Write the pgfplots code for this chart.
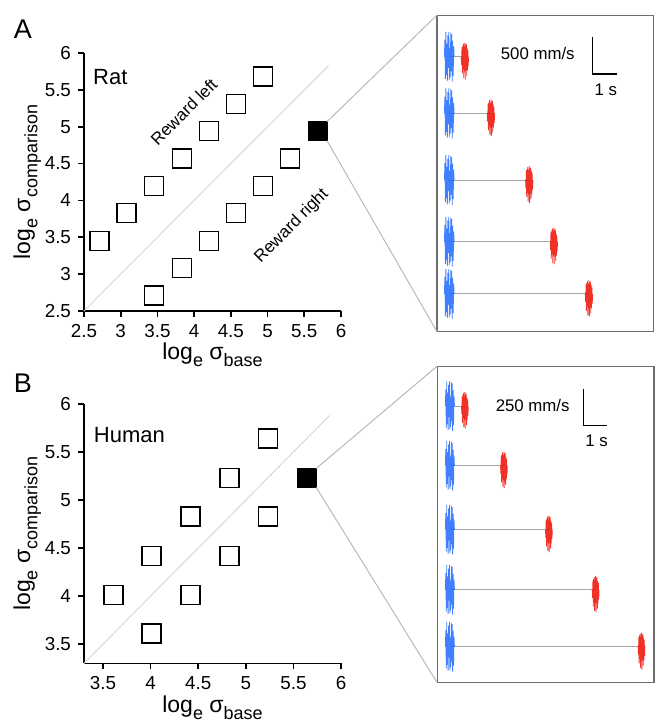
\documentclass[border=0pt]{standalone}
\usepackage{fontspec}
\setmainfont{Liberation Sans}
\usepackage{pgfplots}
\usepackage{pgfplotstable}
\pgfplotsset{compat=1.18}

\definecolor{tblue}{RGB}{30,105,255}
\definecolor{tred}{RGB}{240,25,15}
\definecolor{diag}{RGB}{215,215,215}
\definecolor{link}{RGB}{185,185,185}
\definecolor{boxc}{RGB}{110,110,110}
\definecolor{trace}{RGB}{165,165,165}

\newcommand{\lsub}[1]{\raisebox{-3.6pt}{\fontsize{9}{10}\selectfont #1}}

% log sigma pairs (base, comparison), open squares
\pgfplotstableread{
base comp
2.71 3.45
3.08 3.83
3.45 4.20
3.83 4.57
4.20 4.94
4.57 5.31
4.94 5.68
3.45 2.71
3.83 3.08
4.20 3.45
4.57 3.83
4.94 4.20
5.31 4.57
}\ratopen

\pgfplotstableread{
base comp
3.61 4.01
4.01 3.61
4.01 4.42
4.42 4.01
4.42 4.83
4.83 4.42
4.83 5.23
5.23 4.83
5.23 5.64
}\humanopen

% velocity bursts (s, mm/s)
\pgfplotstableread{
t rat human
-0.20 0 0
-0.18 230 115
-0.16 -300 -150
-0.14 340 170
-0.12 -250 -125
-0.10 180 90
-0.08 -330 -165
-0.06 290 145
-0.04 -150 -75
-0.02 340 170
0.00 -320 -160
0.02 120 60
0.04 -280 -140
0.06 330 165
0.08 -200 -100
0.10 310 155
0.12 -340 -170
0.14 220 110
0.16 -260 -130
0.18 140 70
0.20 0 0
}\blueburst

\pgfplotstableread{
t rat human
-0.150 0 0
-0.135 -110 -55
-0.120 130 65
-0.105 -230 -115
-0.090 150 75
-0.075 -170 -85
-0.060 180 90
-0.045 -290 -145
-0.030 140 70
-0.015 -200 -100
0.000 190 95
0.015 -310 -155
0.030 160 80
0.045 -180 -90
0.060 170 85
0.075 -260 -130
0.090 120 60
0.105 -190 -95
0.120 90 45
0.135 -130 -65
0.150 0 0
}\redburst

\tikzset{note/.style={font=\fontsize{8.4}{10}\selectfont}}

\pgfplotsset{
  scatterax/.style={
    scale only axis, width=128.5pt, anchor=south west,
    axis lines=left, axis line style={-, line width=0.8pt},
    tick align=outside, major tick length=3pt,
    tick style={black, line width=0.8pt},
    /pgf/number format/assume math mode=true,
    tick label style={font=\fontsize{9.4}{11}\selectfont},
    label style={font=\fontsize{11.5}{13}\selectfont},
    xlabel={log\lsub{e} σ\lsub{base}},
    ylabel={log\lsub{e} σ\lsub{comparison}},
    ylabel shift=-5pt, xlabel shift=-4pt,
    clip=false},
  sq/.style={only marks, mark=square, mark size=4.75pt, mark options={line width=0.65pt}},
  sideax/.style={
    scale only axis, width=108.4pt, height=158.3pt, anchor=south west,
    xtick=\empty, ytick=\empty, scaled ticks=false,
    axis line style={boxc, line width=0.6pt}, clip=false},
  bl/.style={tblue, line width=0.4pt, opacity=0.85},
  rd/.style={tred, line width=0.4pt, opacity=0.9},
}

\begin{document}
\begin{tikzpicture}
\useasboundingbox (0,0) rectangle (327.5pt,362.5pt);

\node[font=\fontsize{13.5}{15}\selectfont] at (11.5pt,348pt) {A};
\node[font=\fontsize{13.5}{15}\selectfont] at (11.5pt,171pt) {B};

% ---------- A: rat ----------
\begin{axis}[scatterax, at={(42pt,207pt)}, height=129pt,
  xmin=2.5, xmax=6, ymin=2.5, ymax=6,
  xtick={2.5,3,3.5,4,4.5,5,5.5,6}, ytick={2.5,3,3.5,4,4.5,5,5.5,6}]
\addplot[diag, line width=0.5pt] coordinates {(2.5,2.5) (5.83,5.83)};
\addplot[sq] table[x=base, y=comp] \ratopen;
\addplot[sq, mark=square*, mark options={fill=black}] coordinates {(5.68,4.94)};
\node[anchor=west, inner sep=0pt, font=\fontsize{11}{13}\selectfont] at (axis cs:2.62,5.67) {Rat};
\node[rotate=45, font=\fontsize{8.5}{10}\selectfont] at (axis cs:3.86,5.20) {Reward left};
\node[rotate=45, font=\fontsize{8.5}{10}\selectfont] at (axis cs:5.33,3.65) {Reward right};
\coordinate (fA) at (axis cs:5.68,4.94);
\end{axis}

\begin{axis}[sideax, at={(218.5pt,196.65pt)},
  xmin=-0.504, xmax=8.39, ymin=0, ymax=4315]
\addplot[trace, line width=0.5pt] coordinates {(0,3747) (0.64,3747)};
\addplot[trace, line width=0.5pt] coordinates {(0,2975) (1.71,2975)};
\addplot[trace, line width=0.5pt] coordinates {(0,2067) (3.28,2067)};
\addplot[trace, line width=0.5pt] coordinates {(0,1226) (4.29,1226)};
\addplot[trace, line width=0.5pt] coordinates {(0,514) (5.73,514)};
\addplot[bl] table[x=t, y expr=\thisrow{rat}+3747] \blueburst;
\addplot[bl] table[x=t, y expr=\thisrow{rat}+2975] \blueburst;
\addplot[bl] table[x=t, y expr=\thisrow{rat}+2067] \blueburst;
\addplot[bl] table[x=t, y expr=\thisrow{rat}+1226] \blueburst;
\addplot[bl] table[x=t, y expr=\thisrow{rat}+514] \blueburst;
\addplot[rd] table[x expr=\thisrow{t}+0.64, y expr=\thisrow{rat}+3747] \redburst;
\addplot[rd] table[x expr=\thisrow{t}+1.71, y expr=\thisrow{rat}+2975] \redburst;
\addplot[rd] table[x expr=\thisrow{t}+3.28, y expr=\thisrow{rat}+2067] \redburst;
\addplot[rd] table[x expr=\thisrow{t}+4.29, y expr=\thisrow{rat}+1226] \redburst;
\addplot[rd] table[x expr=\thisrow{t}+5.73, y expr=\thisrow{rat}+514] \redburst;
\addplot[black, line width=0.6pt] coordinates {(5.86,4011) (5.86,3511) (6.86,3511)};
\node[note, anchor=east] at (axis cs:5.43,3793) {500 mm/s};
\node[note] at (axis cs:6.42,3302) {1 s};
\coordinate (bAtl) at (rel axis cs:0,1);
\coordinate (bAbl) at (rel axis cs:0,0);
\end{axis}

% ---------- B: human ----------
\begin{axis}[scatterax, at={(42pt,30.85pt)}, height=129.65pt,
  xmin=3.3, xmax=6, ymin=3.3, ymax=6,
  xtick={3.5,4,4.5,5,5.5,6}, ytick={3.5,4,4.5,5,5.5,6}]
\addplot[diag, line width=0.5pt] coordinates {(3.3,3.3) (5.88,5.88)};
\addplot[sq] table[x=base, y=comp] \humanopen;
\addplot[sq, mark=square*, mark options={fill=black}] coordinates {(5.64,5.23)};
\node[anchor=west, inner sep=0pt, font=\fontsize{11}{13}\selectfont] at (axis cs:3.40,5.68) {Human};
\coordinate (fB) at (axis cs:5.64,5.23);
\end{axis}

\begin{axis}[sideax, at={(218.6pt,21.15pt)},
  xmin=-0.56, xmax=8.99, ymin=0, ymax=2170]
\addplot[trace, line width=0.5pt] coordinates {(0,1896) (0.66,1896)};
\addplot[trace, line width=0.5pt] coordinates {(0,1488) (2.38,1488)};
\addplot[trace, line width=0.5pt] coordinates {(0,1049) (4.36,1049)};
\addplot[trace, line width=0.5pt] coordinates {(0,637) (6.42,637)};
\addplot[trace, line width=0.5pt] coordinates {(0,247) (8.44,247)};
\addplot[bl] table[x=t, y expr=\thisrow{human}+1896] \blueburst;
\addplot[bl] table[x=t, y expr=\thisrow{human}+1488] \blueburst;
\addplot[bl] table[x=t, y expr=\thisrow{human}+1049] \blueburst;
\addplot[bl] table[x=t, y expr=\thisrow{human}+637] \blueburst;
\addplot[bl] table[x=t, y expr=\thisrow{human}+247] \blueburst;
\addplot[rd] table[x expr=\thisrow{t}+0.66, y expr=\thisrow{human}+1896] \redburst;
\addplot[rd] table[x expr=\thisrow{t}+2.38, y expr=\thisrow{human}+1488] \redburst;
\addplot[rd] table[x expr=\thisrow{t}+4.36, y expr=\thisrow{human}+1049] \redburst;
\addplot[rd] table[x expr=\thisrow{t}+6.42, y expr=\thisrow{human}+637] \redburst;
\addplot[rd] table[x expr=\thisrow{t}+8.44, y expr=\thisrow{human}+247] \redburst;
\addplot[black, line width=0.6pt] coordinates {(5.9,2015) (5.9,1765) (6.9,1765)};
\node[note, anchor=east] at (axis cs:5.58,1900) {250 mm/s};
\node[note] at (axis cs:6.46,1660) {1 s};
\coordinate (bBtl) at (rel axis cs:0,1);
\coordinate (bBbl) at (rel axis cs:0,0);
\end{axis}

% zoom lines from the filled square to its panel
\draw[link, line width=0.5pt] ([shift={(4.75pt,4.75pt)}]fA) -- (bAtl);
\draw[link, line width=0.5pt] ([shift={(4.75pt,-4.75pt)}]fA) -- (bAbl);
\draw[link, line width=0.5pt] ([shift={(4.75pt,4.75pt)}]fB) -- (bBtl);
\draw[link, line width=0.5pt] ([shift={(4.75pt,-4.75pt)}]fB) -- (bBbl);
\end{tikzpicture}
\end{document}
